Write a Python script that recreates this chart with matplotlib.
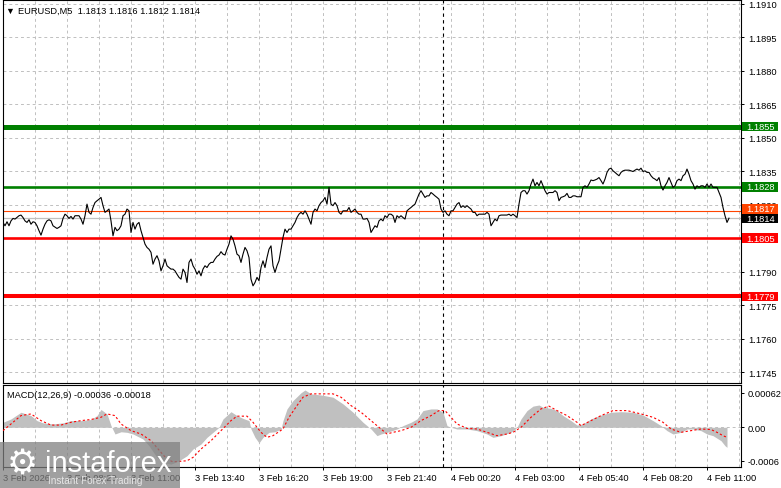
import matplotlib
matplotlib.use('Agg')
import matplotlib.pyplot as plt
from matplotlib.patches import Rectangle

plt.rcParams['font.family'] = ['Liberation Sans', 'DejaVu Sans']

# EURUSD M5, barras contadas desde 3 Feb 05:40
barras = [0, 1, 2, 3, 4, 5, 6, 8, 9, 10, 11, 12, 13, 14, 15, 16, 17, 18, 19, 20,
          21, 22, 23, 24, 25, 27, 28, 29, 30, 31, 32, 33, 34, 35, 36, 37, 38, 39, 40, 41,
          42, 43, 44, 45, 46, 47, 48, 49, 50, 51, 52, 53, 54, 55, 56, 57, 58, 59, 60, 61,
          62, 63, 64, 65, 66, 67, 68, 69, 70, 71, 72, 73, 74, 75, 76, 77, 78, 79, 80, 81,
          82, 83, 84, 85, 86, 87, 88, 89, 90, 91, 92, 93, 94, 95, 96, 97, 98, 99, 100, 101,
          102, 103, 104, 105, 106, 107, 108, 109, 110, 111, 112, 113, 114, 115, 116, 117, 118, 119, 120, 121,
          122, 123, 124, 125, 126, 127, 128, 129, 130, 131, 132, 133, 134, 135, 136, 137, 138, 139, 140, 141,
          142, 143, 144, 145, 146, 147, 148, 149, 150, 151, 152, 153, 154, 155, 156, 157, 158, 159, 160, 161,
          162, 163, 164, 165, 166, 167, 168, 169, 170, 171, 172, 173, 174, 175, 176, 177, 178, 179, 180, 181,
          182, 183, 184, 185, 186, 187, 188, 189, 190, 191, 192, 193, 194, 195, 196, 197, 198, 199, 200, 201,
          202, 203, 204, 205, 206, 207, 208, 209, 210, 211, 212, 213, 214, 215, 216, 217, 218, 219, 220, 221,
          222, 223, 224, 225, 226, 227, 228, 229, 230, 231, 232, 233, 234, 235, 236, 237, 238, 239, 240, 241,
          242, 243, 244, 245, 246, 247, 248, 249, 250, 251, 252, 253, 254, 255, 256, 257, 258, 259, 260, 261,
          262, 263, 264, 265, 266, 267, 268, 269, 270, 271, 272, 273, 274, 275, 276, 277, 278, 279, 280, 281,
          282, 283, 284, 285, 286, 287, 288, 289, 290, 291, 292, 293, 294, 295, 296, 297, 298, 299, 300, 301,
          302, 303, 304, 305, 306, 307, 308, 309, 310, 311, 312, 313, 314, 315, 316, 317, 318, 319, 320, 321,
          322, 323, 324, 325, 326, 327, 328, 329, 330, 331, 332, 333, 334, 335, 336, 337, 338, 339, 340, 341,
          342, 343, 344, 345, 346, 347, 348, 349, 350, 351, 352, 353, 354, 355, 356, 357, 358, 359, 360, 361,
          362, 363]
precios = [1.18121, 1.18106, 1.18124, 1.18106, 1.18128, 1.18139, 1.18136, 1.18151, 1.18154, 1.18143,
           1.18128, 1.18121, 1.18133, 1.18113, 1.18124, 1.18121, 1.18106, 1.18084, 1.18064, 1.18091,
           1.18113, 1.18128, 1.18133, 1.18128, 1.18106, 1.18094, 1.18099, 1.18106, 1.18139, 1.18158,
           1.18151, 1.18139, 1.18148, 1.18136, 1.18151, 1.18151, 1.18151, 1.18136, 1.18113, 1.18151,
           1.18203, 1.18166, 1.18158, 1.18188, 1.18210, 1.18218, 1.18225, 1.18233, 1.18196, 1.18166,
           1.18173, 1.18181, 1.18128, 1.18061, 1.18099, 1.18084, 1.18091, 1.18106, 1.18151, 1.18158,
           1.18181, 1.18173, 1.18076, 1.18121, 1.18091, 1.18113, 1.18121, 1.18084, 1.18054, 1.18024,
           1.18009, 1.18001, 1.17987, 1.17934, 1.17957, 1.17972, 1.17949, 1.17904, 1.17927, 1.17957,
           1.17927, 1.17919, 1.17912, 1.17912, 1.17904, 1.17889, 1.17875, 1.17867, 1.17912, 1.17897,
           1.17852, 1.17942, 1.17957, 1.17927, 1.17912, 1.17889, 1.17904, 1.17882, 1.17912, 1.17927,
           1.17919, 1.17934, 1.17942, 1.17942, 1.17957, 1.17969, 1.17975, 1.17990, 1.17979, 1.17975,
           1.18001, 1.18024, 1.18061, 1.18046, 1.18016, 1.17979, 1.17972, 1.17942, 1.17979, 1.18009,
           1.17994, 1.17964, 1.17867, 1.17837, 1.17852, 1.17875, 1.17860, 1.17919, 1.17949, 1.17919,
           1.17964, 1.18001, 1.18016, 1.17927, 1.17897, 1.17927, 1.17949, 1.18001, 1.18054, 1.18091,
           1.18076, 1.18091, 1.18091, 1.18106, 1.18121, 1.18143, 1.18158, 1.18166, 1.18158, 1.18173,
           1.18158, 1.18136, 1.18113, 1.18166, 1.18181, 1.18173, 1.18196, 1.18210, 1.18218, 1.18233,
           1.18203, 1.18278, 1.18203, 1.18196, 1.18210, 1.18196, 1.18166, 1.18158, 1.18173, 1.18173,
           1.18173, 1.18188, 1.18166, 1.18173, 1.18181, 1.18166, 1.18158, 1.18158, 1.18136, 1.18136,
           1.18139, 1.18121, 1.18076, 1.18091, 1.18106, 1.18099, 1.18128, 1.18136, 1.18128, 1.18151,
           1.18143, 1.18158, 1.18158, 1.18151, 1.18121, 1.18151, 1.18143, 1.18151, 1.18143, 1.18136,
           1.18173, 1.18181, 1.18188, 1.18196, 1.18203, 1.18225, 1.18248, 1.18263, 1.18248, 1.18233,
           1.18240, 1.18240, 1.18255, 1.18248, 1.18240, 1.18233, 1.18225, 1.18181, 1.18166, 1.18173,
           1.18158, 1.18151, 1.18173, 1.18173, 1.18188, 1.18203, 1.18210, 1.18188, 1.18196, 1.18188,
           1.18196, 1.18188, 1.18181, 1.18166, 1.18166, 1.18151, 1.18158, 1.18158, 1.18158, 1.18158,
           1.18166, 1.18158, 1.18106, 1.18121, 1.18136, 1.18128, 1.18151, 1.18154, 1.18154, 1.18154,
           1.18154, 1.18158, 1.18151, 1.18158, 1.18151, 1.18143, 1.18203, 1.18255, 1.18263, 1.18263,
           1.18248, 1.18263, 1.18293, 1.18315, 1.18285, 1.18300, 1.18285, 1.18308, 1.18285, 1.18263,
           1.18248, 1.18255, 1.18255, 1.18255, 1.18263, 1.18255, 1.18218, 1.18233, 1.18236, 1.18240,
           1.18251, 1.18233, 1.18233, 1.18240, 1.18240, 1.18236, 1.18236, 1.18236, 1.18278, 1.18285,
           1.18278, 1.18293, 1.18311, 1.18308, 1.18311, 1.18315, 1.18322, 1.18308, 1.18293, 1.18315,
           1.18345, 1.18360, 1.18364, 1.18352, 1.18345, 1.18337, 1.18330, 1.18345, 1.18352, 1.18355,
           1.18355, 1.18355, 1.18352, 1.18349, 1.18355, 1.18360, 1.18355, 1.18364, 1.18349, 1.18352,
           1.18345, 1.18345, 1.18330, 1.18320, 1.18315, 1.18308, 1.18322, 1.18285, 1.18266, 1.18285,
           1.18300, 1.18322, 1.18300, 1.18278, 1.18285, 1.18308, 1.18315, 1.18308, 1.18330, 1.18337,
           1.18360, 1.18337, 1.18308, 1.18293, 1.18270, 1.18285, 1.18278, 1.18285, 1.18285, 1.18278,
           1.18293, 1.18278, 1.18293, 1.18278, 1.18278, 1.18278, 1.18255, 1.18233, 1.18188, 1.18151,
           1.18121, 1.18140]

# MACD(12,26,9): histograma y senal
macd_barras = [0, 4, 9, 14, 17, 20, 25, 30, 34, 39, 44, 47, 49, 52, 54, 56, 59, 62, 65, 70,
               73, 77, 80, 84, 88, 92, 95, 99, 102, 105, 108, 110, 114, 117, 120, 123, 124, 126, 128, 130,
               133, 136, 139, 140, 142, 145, 149, 151, 154, 159, 165, 170, 175, 180, 184, 187, 189, 192, 197, 200,
               204, 207, 210, 214, 217, 220, 222, 224, 227, 232, 237, 242, 245, 249, 254, 257, 259, 262, 265, 268,
               270, 274, 277, 280, 284, 287, 290, 294, 299, 304, 309, 315, 320, 325, 329, 332, 335, 339, 342, 345,
               349, 352, 355, 359, 361, 362]
macd_valores = [0.00009, 0.00015, 0.00027, 0.00021, 0.00012, 0.00008, 0.00006, 0.00008, 0.00012, 0.00012,
                0.00014, 0.00021, 0.00032, 0.00024, 0.00003, -0.00012, -0.00008, -0.00009, -0.00012, -0.00021,
                -0.00033, -0.00054, -0.00063, -0.00066, -0.00060, -0.00051, -0.00039, -0.00030, -0.00018, -0.00009,
                0.0, 0.00015, 0.00028, 0.00021, 0.00016, 0.00012, -0.00003, -0.00018, -0.00028, -0.00018,
                -0.00009, -0.00008, -0.00003, 0.00012, 0.00033, 0.00048, 0.00062, 0.00067, 0.00060, 0.00058,
                0.00054, 0.00042, 0.00027, 0.00009, -0.00003, -0.00015, -0.00012, -0.00009, -0.00003, 0.00003,
                0.00009, 0.00015, 0.00030, 0.00033, 0.00033, 0.00027, 0.00003, 0.0, -0.00003, -0.00003,
                -0.00006, -0.00012, -0.00018, -0.00015, -0.00009, 0.0, 0.00015, 0.00030, 0.00038, 0.00040,
                0.00036, 0.00034, 0.00030, 0.00021, 0.00012, 0.00004, 0.00006, 0.00015, 0.00022, 0.00027,
                0.00028, 0.00027, 0.00022, 0.00012, 0.00003, -0.00006, -0.00012, -0.00009, -0.00003, -0.00003,
                -0.00006, -0.00012, -0.00015, -0.00024, -0.00033, -0.00036]
senal_barras = [0, 4, 9, 14, 19, 24, 29, 34, 39, 44, 49, 52, 56, 59, 64, 69, 74, 79, 82, 85,
                92, 95, 99, 104, 109, 114, 117, 122, 125, 129, 132, 135, 140, 143, 147, 150, 154, 159, 165, 169,
                174, 179, 184, 189, 192, 195, 199, 204, 209, 214, 218, 221, 224, 227, 232, 237, 242, 247, 252, 255,
                259, 264, 269, 273, 277, 282, 287, 289, 294, 299, 305, 312, 319, 325, 330, 334, 339, 344, 349, 354,
                357, 360, 362]
senal_valores = [-0.00006, 0.00006, 0.00021, 0.00024, 0.00012, 0.00004, 0.00004, 0.00009, 0.00012, 0.00014,
                 0.00018, 0.00024, 0.00021, 0.00006, -0.00006, -0.00012, -0.00024, -0.00045, -0.00057, -0.00062,
                 -0.00060, -0.00054, -0.00039, -0.00024, -0.00006, 0.00012, 0.00020, 0.00020, 0.00009, -0.00009,
                 -0.00018, -0.00015, -0.00003, 0.00018, 0.00039, 0.00054, 0.00060, 0.00060, 0.00060, 0.00054,
                 0.00039, 0.00027, 0.00012, -0.00003, -0.00012, -0.00009, -0.00006, 0.0, 0.00012, 0.00021,
                 0.00030, 0.00030, 0.00018, 0.00006, -0.00002, -0.00003, -0.00009, -0.00015, -0.00012, -0.00009,
                 0.0, 0.00018, 0.00033, 0.00038, 0.00030, 0.00021, 0.00009, 0.00003, 0.00012, 0.00021,
                 0.00030, 0.00030, 0.00024, 0.00018, 0.00009, -0.00003, -0.00009, -0.00006, -0.00003, -0.00004,
                 -0.00009, -0.00015, -0.00018]

niveles = [1.1855, 1.1828, 1.1805, 1.1779]
textos_niveles = ['1.1855', '1.1828', '1.1805', '1.1779']
colores_niveles = ['#008000', '#008000', '#ff0000', '#ff0000']
grosores_niveles = [3.6, 1.9, 1.9, 2.9]

ticks_precio = [1.1910, 1.1895, 1.1880, 1.1865, 1.1850, 1.1835, 1.1820,
                1.1805, 1.1790, 1.1775, 1.1760, 1.1745]
etiquetas_x = ['3 Feb 2026', '3 Feb 08:20', '3 Feb 11:00', '3 Feb 13:40', '3 Feb 16:20',
               '3 Feb 19:00', '3 Feb 21:40', '4 Feb 00:20', '4 Feb 03:00', '4 Feb 05:40',
               '4 Feb 08:20', '4 Feb 11:00']
barra_separador = 220   # 4 Feb 00:00

W, H = 781, 489
GRIS = '#c0c0c0'
FS = 6.7

fig = plt.figure(figsize=(W / 100, H / 100), dpi=100)
ax  = fig.add_axes([3 / W, 1 - 384 / H, 738 / W, 383 / H])
axm = fig.add_axes([3 / W, 1 - 468 / H, 738 / W, 82 / H])

for a in (ax, axm):
   a.set_xlim(0, 369)
   for s in a.spines.values():
      s.set_linewidth(0.8)
      s.set_color('black')
   for b in range(16, 369, 16):
      a.axvline(b, color=GRIS, ls=(0, (3, 3)), lw=0.7, zorder=0)
   a.axvline(barra_separador, color='black', ls=(0, (3, 3)), lw=0.8, zorder=1)
   a.yaxis.tick_right()
   a.tick_params(axis='y', direction='out', length=2.5, width=0.7, pad=2.5, labelsize=FS)

# Panel de precio (la etiqueta 1.1805 queda tapada por la caja roja)
ax.set_ylim(1.17402, 1.19117)
ax.set_yticks(ticks_precio)
ax.set_yticklabels(['' if t in niveles else f'{t:.4f}' for t in ticks_precio])
ax.set_xticks([])
for t in ticks_precio:
   ax.axhline(t, color=GRIS, ls=(0, (3, 3)), lw=0.7, zorder=0)

ax.axhline(1.1814, color=GRIS, lw=0.9, zorder=1)
ax.axhline(1.1817, color='#ff4500', lw=0.8, zorder=1)
for v, c, g in zip(niveles, colores_niveles, grosores_niveles):
   ax.axhline(v, color=c, lw=g, zorder=2)

ax.plot(barras, precios, color='black', lw=0.8, zorder=3)

# Panel MACD
axm.set_ylim(-0.000712, 0.000759)
axm.set_yticks([0.00062, 0.0, -0.0006])
axm.set_yticklabels(['0.00062', '0.00', '-0.0006'])
axm.axhline(0, color=GRIS, ls=(0, (3, 3)), lw=0.7, zorder=0)
axm.fill_between(macd_barras, macd_valores, 0, color=GRIS, lw=0, zorder=2)
axm.plot(senal_barras, senal_valores, color='red', ls=(0, (2, 2)), lw=0.8, zorder=3)

axm.set_xticks(range(0, 353, 32))
axm.set_xticklabels(etiquetas_x, fontsize=FS, ha='left')
axm.tick_params(axis='x', direction='out', length=2.5, width=0.7, pad=2)

# Cajas de precio a la derecha
def caja_nivel(axis, valor, texto, fondo, dy=0.0):
   _, y = fig.transFigure.inverted().transform(axis.transData.transform((0, valor)))
   y += dy / H
   fig.patches.append(Rectangle((742 / W, y - 4.8 / H), 36 / W, 9.6 / H,
                                transform=fig.transFigure, facecolor=fondo,
                                edgecolor='none', zorder=5))
   fig.text(746 / W, y, texto, color='white', fontsize=FS,
            va='center', ha='left', zorder=6)

for v, t, c in zip(niveles, textos_niveles, colores_niveles):
   caja_nivel(ax, v, t, c)
caja_nivel(ax, 1.1817, '1.1817', '#ff4500', dy=2.5)
caja_nivel(ax, 1.1814, '1.1814', 'black', dy=-0.5)

# Titulos
fig.text(5 / W, 1 - 11 / H, '▼', fontsize=6.5, va='center', ha='left')
fig.text(18 / W, 1 - 11 / H, 'EURUSD,M5  1.1813 1.1816 1.1812 1.1814',
         fontsize=FS, va='center', ha='left')
fig.text(7 / W, 1 - 395 / H, 'MACD(12,26,9) -0.00036 -0.00018',
         fontsize=FS, va='center', ha='left')

# Marca de agua
fig.patches.append(Rectangle((0, 0), 180 / W, 46 / H, transform=fig.transFigure,
                             facecolor='#808080', alpha=0.75, edgecolor='none', zorder=7))
fig.text(7 / W, 1 - 465 / H, '⚙', fontsize=25, color='white', va='center',
         ha='left', family='DejaVu Sans', zorder=8)
fig.text(45 / W, 1 - 464 / H, 'instaforex', fontsize=21, color='white',
         va='center', ha='left', zorder=8)
fig.text(48 / W, 1 - 481 / H, 'Instant Forex Trading', fontsize=7.2,
         color='#e6e6e6', va='center', ha='left', zorder=8)

fig.savefig('out.png', dpi=100)
